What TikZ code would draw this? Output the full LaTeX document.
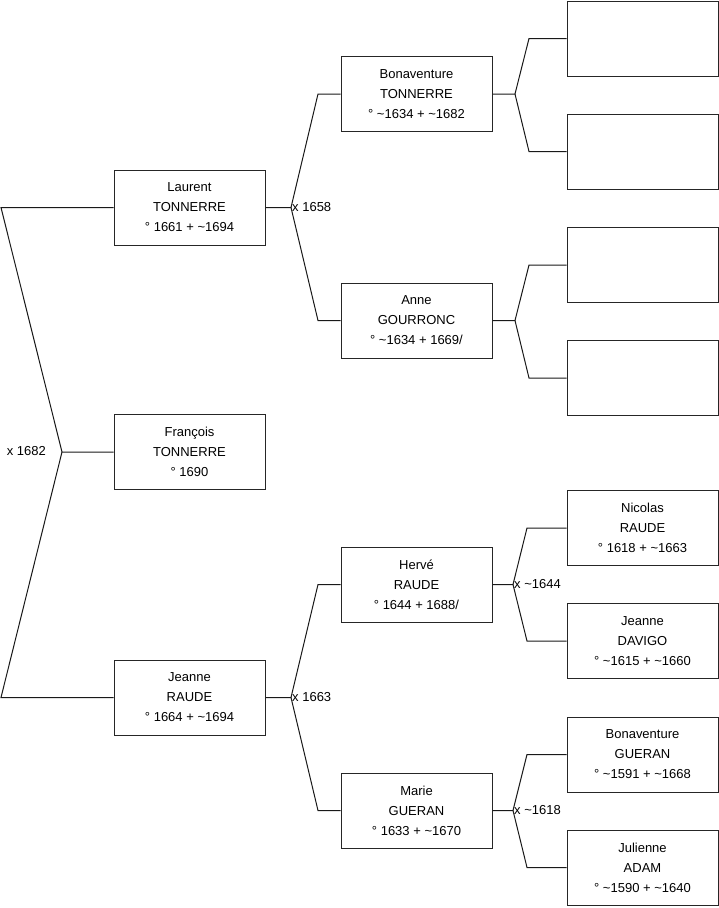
\documentclass[tikz,border=0pt]{standalone}
\usepackage{fontspec}
\setmainfont{Liberation Sans}
\usetikzlibrary{positioning}
\begin{document}
\begin{tikzpicture}[x=1pt,y=-1pt,
    person/.style={draw=black!85, line width=1pt, minimum width=151pt,
      minimum height=75pt, inner sep=0pt, align=center,
      font=\fontsize{13}{20}\selectfont},
    link/.style={line width=1pt, black!90},
    union/.style={inner sep=1pt, font=\fontsize{13}{15}\selectfont}]
    \useasboundingbox (0,0) rectangle (719,908);

    % child
    \node[person] (francois) at (189.5,452) {François\\TONNERRE\\° 1690};

    % parents
    \node[person] (laurent) at (189.5,207.5) {Laurent\\TONNERRE\\° 1661 + \textasciitilde1694};
    \node[person] (jeanne) at (189.5,697.5) {Jeanne\\RAUDE\\° 1664 + \textasciitilde1694};

    % grandparents
    \node[person] (bonaventure) at (416.5,94) {Bonaventure\\TONNERRE\\° \textasciitilde1634 + \textasciitilde1682};
    \node[person] (anne) at (416.5,320.5) {Anne\\GOURRONC\\° \textasciitilde1634 + 1669/};
    \node[person] (herve) at (416.5,584.5) {Hervé\\RAUDE\\° 1644 + 1688/};
    \node[person] (marie) at (416.5,810.5) {Marie\\GUERAN\\° 1633 + \textasciitilde1670};

    % great-grandparents
    \node[person] (bonaventureF) at (642.5,38.5) {};
    \node[person] (bonaventureM) at (642.5,151.5) {};
    \node[person] (anneF) at (642.5,265) {};
    \node[person] (anneM) at (642.5,378) {};
    \node[person] (nicolas) at (642.5,528) {Nicolas\\RAUDE\\° 1618 + \textasciitilde1663};
    \node[person] (jeanneD) at (642.5,641) {Jeanne\\DAVIGO\\° \textasciitilde1615 + \textasciitilde1660};
    \node[person] (bonaventureG) at (642.5,754.5) {Bonaventure\\GUERAN\\° \textasciitilde1591 + \textasciitilde1668};
    \node[person] (julienne) at (642.5,867.5) {Julienne\\ADAM\\° \textasciitilde1590 + \textasciitilde1640};

    % union of Laurent and Jeanne
    \coordinate (u0) at (62,452);
    \coordinate (u0a) at (1,207.5); \coordinate (u0b) at (1,697.5);
    \draw[link] (francois.west) -- (u0) -- (u0a) -- (laurent.west);
    \draw[link] (u0) -- (u0b) -- (jeanne.west);
    \node[union, anchor=east] (m0) at (47,451) {x 1682};

    % union of Bonaventure and Anne
    \coordinate (u1) at (291,207.5);
    \coordinate (u1a) at (318,94); \coordinate (u1b) at (318,320.5);
    \draw[link] (laurent.east) -- (u1) -- (u1a) -- (bonaventure.west);
    \draw[link] (u1) -- (u1b) -- (anne.west);
    \node[union, anchor=west] (m1) at (u1) {x 1658};

    % union of Hervé and Marie
    \coordinate (u2) at (291,697.5);
    \coordinate (u2a) at (318,584.5); \coordinate (u2b) at (318,810.5);
    \draw[link] (jeanne.east) -- (u2) -- (u2a) -- (herve.west);
    \draw[link] (u2) -- (u2b) -- (marie.west);
    \node[union, anchor=west] (m2) at (u2) {x 1663};

    % parents of Bonaventure
    \coordinate (u3) at (515,94);
    \coordinate (u3a) at (529,38.5); \coordinate (u3b) at (529,151.5);
    \draw[link] (bonaventure.east) -- (u3) -- (u3a) -- (bonaventureF.west);
    \draw[link] (u3) -- (u3b) -- (bonaventureM.west);

    % parents of Anne
    \coordinate (u4) at (515,320.5);
    \coordinate (u4a) at (529,265); \coordinate (u4b) at (529,378);
    \draw[link] (anne.east) -- (u4) -- (u4a) -- (anneF.west);
    \draw[link] (u4) -- (u4b) -- (anneM.west);

    % parents of Hervé
    \coordinate (u5) at (513,584.5);
    \coordinate (u5a) at (527,528); \coordinate (u5b) at (527,641);
    \draw[link] (herve.east) -- (u5) -- (u5a) -- (nicolas.west);
    \draw[link] (u5) -- (u5b) -- (jeanneD.west);
    \node[union, anchor=west] (m5) at (u5) {x \textasciitilde1644};

    % parents of Marie
    \coordinate (u6) at (513,810.5);
    \coordinate (u6a) at (527,754.5); \coordinate (u6b) at (527,867.5);
    \draw[link] (marie.east) -- (u6) -- (u6a) -- (bonaventureG.west);
    \draw[link] (u6) -- (u6b) -- (julienne.west);
    \node[union, anchor=west] (m6) at (u6) {x \textasciitilde1618};
  \end{tikzpicture}
\end{document}
